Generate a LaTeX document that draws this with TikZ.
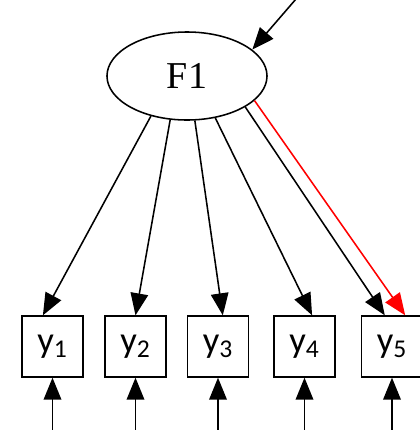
\documentclass[tikz,border=0pt]{standalone}
\usepackage{fontspec}
\setmainfont{Liberation Serif}
\newfontfamily\obsfont{Carlito}
\usetikzlibrary{arrows.meta,shapes.geometric}
\tikzset{
  latent/.style={
    ellipse,
    draw=black,
    line width=1.1pt,
    minimum width=4cm,
    minimum height=2.2cm,
    inner sep=0pt,
    font=\fontsize{27}{30}\selectfont
  },
  manifest/.style={
    rectangle,
    draw=black,
    line width=1.1pt,
    minimum width=1.52cm,
    minimum height=1.52cm,
    inner sep=0pt,
    font=\obsfont\fontsize{26}{28}\selectfont
  },
  loading/.style={
    line width=1.1pt,
    -{Triangle[length=5.5mm,width=4.4mm]}
  },
  constrained/.style={
    loading,
    draw=red,
    fill=red
  },
  residual/.style={
    line width=1.1pt,
    -{Triangle[length=5.5mm,width=4.4mm]}
  }
}

\begin{document}
\begin{tikzpicture}[x=0.025cm,y=-0.025cm]
  \useasboundingbox (0,0) rectangle (420,430);

  % ------------------------------------------------------------------
  % factor and indicators
  % ------------------------------------------------------------------
  \node[latent] (F1) at (187,76) {F1};

  \node[manifest] (y1) at (52.5,346.5) {y\textsubscript{1}};
  \node[manifest] (y2) at (135.5,346.5) {y\textsubscript{2}};
  \node[manifest] (y3) at (218,346.5) {y\textsubscript{3}};
  \node[manifest] (y4) at (304.5,346.5) {y\textsubscript{4}};
  \node[manifest] (y5) at (392,346.5) {y\textsubscript{5}};

  % free ends of the residual arrows
  \coordinate (eF1) at (296,-1);
  \coordinate (e1) at (52.5,431);
  \coordinate (e2) at (135.5,431);
  \coordinate (e3) at (218,431);
  \coordinate (e4) at (304.5,431);
  \coordinate (e5) at (392,431);

  % ------------------------------------------------------------------
  % loadings
  % ------------------------------------------------------------------
  \draw[loading] (F1.228) -- ([xshift=-0.24cm]y1.north);
  \draw[loading] (F1.249) -- (y2.north);
  \draw[loading] (F1.280) -- ([xshift=0.12cm]y3.north);
  \draw[loading] (F1.304) -- ([xshift=0.19cm]y4.north);
  \draw[loading] (F1.332) -- ([xshift=-0.18cm]y5.north);
  \draw[constrained] (F1.340) -- ([xshift=0.33cm]y5.north);

  % ------------------------------------------------------------------
  % residuals
  % ------------------------------------------------------------------
  \draw[residual] (eF1) -- (F1.22);
  \draw[residual] (e1) -- (y1);
  \draw[residual] (e2) -- (y2);
  \draw[residual] (e3) -- (y3);
  \draw[residual] (e4) -- (y4);
  \draw[residual] (e5) -- (y5);
\end{tikzpicture}
\end{document}
